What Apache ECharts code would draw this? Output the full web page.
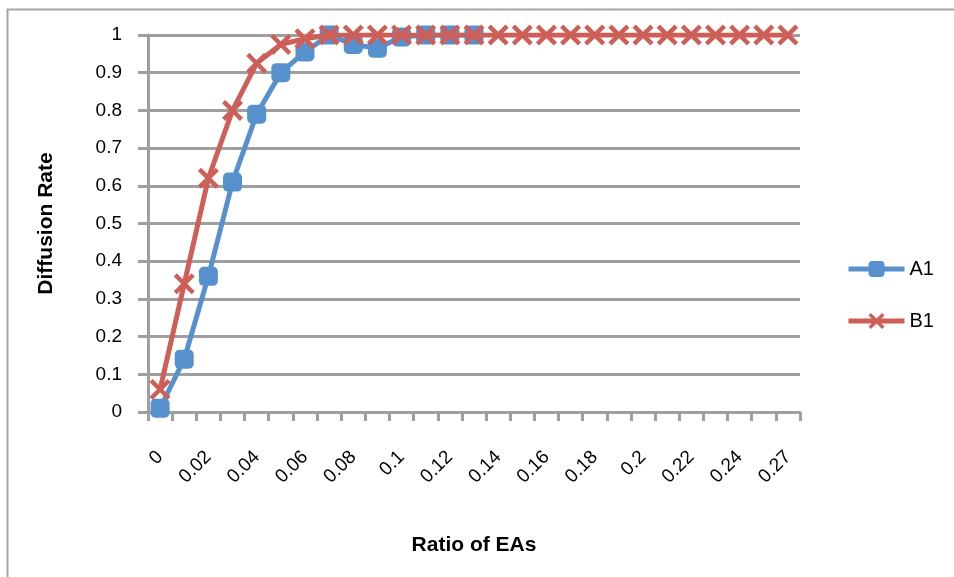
<!DOCTYPE html>
<html>
<head>
<meta charset="utf-8">
<script src="https://cdn.jsdelivr.net/npm/echarts@6/dist/echarts.min.js"></script>
<style>
html,body{margin:0;padding:0;background:#fff;}
#chart{width:954px;height:577px;}
</style>
</head>
<body>
<div id="chart"></div>
<script>
var categories = ['0','0.01','0.02','0.03','0.04','0.05','0.06','0.07','0.08','0.09','0.1','0.11','0.12','0.13','0.14','0.15','0.16','0.17','0.18','0.19','0.2','0.21','0.22','0.23','0.24','0.25','0.27'];
var seriesA1 = [0.01,0.14,0.36,0.61,0.79,0.90,0.955,1.0,0.975,0.965,0.995,1.0,1.0,1.0];
var seriesB1 = [0.06,0.34,0.62,0.80,0.925,0.975,0.99,1.0,1.0,1.0,1.0,1.0,1.0,1.0,1.0,1.0,1.0,1.0,1.0,1.0,1.0,1.0,1.0,1.0,1.0,1.0,1.0];
var seriesNames = ['A1','B1'];
var yAxisTitle = 'Diffusion Rate';
var xAxisTitle = 'Ratio of EAs';

var FONT = 'Liberation Sans';
var GRID = '#9f9f9f';
var BLUE = '#5791cd';
var RED = '#cd5f58';
var XSYM = 'path://M3,0 L10,7 L17,0 L20,3 L13,10 L20,17 L17,20 L10,13 L3,20 L0,17 L7,10 L0,3 Z';

var chart = echarts.init(document.getElementById('chart'), null, {renderer:'canvas'});
chart.setOption({
  animation: false,
  backgroundColor: '#fff',
  graphic: [{
    type: 'rect', left: 5, top: 7, silent: true,
    shape: {x: 0, y: 0, width: 1000, height: 1000},
    style: {fill: 'none', stroke: '#a6a6a6', lineWidth: 2}
  }],
  grid: {left: 148, top: 35, width: 652, height: 377, containLabel: false},
  legend: {
    orient: 'vertical', left: 846, top: 259, padding: 0,
    itemWidth: 56, itemHeight: 20, itemGap: 32,
    lineStyle: {width: 5},
    textStyle: {fontFamily: FONT, fontSize: 20, color: '#000', padding: [0,0,0,0]},
    data: seriesNames
  },
  xAxis: {
    type: 'category', data: categories, boundaryGap: true,
    name: xAxisTitle, nameLocation: 'middle', nameGap: 123,
    nameTextStyle: {fontFamily: FONT, fontSize: 21, fontWeight: 'bold', color: '#000'},
    axisLine: {show: true, lineStyle: {color: GRID, width: 3}},
    axisTick: {show: true, interval: 0, length: 9, lineStyle: {color: GRID, width: 3}},
    axisLabel: {interval: 1, rotate: 45, margin: 42, fontFamily: FONT, fontSize: 19, color: '#000'},
    splitLine: {show: false}
  },
  yAxis: {
    type: 'value', min: 0, max: 1, interval: 0.1,
    name: yAxisTitle, nameLocation: 'middle', nameGap: 91, nameRotate: 90,
    nameTextStyle: {fontFamily: FONT, fontSize: 21, fontWeight: 'bold', color: '#000'},
    axisLine: {show: true, lineStyle: {color: GRID, width: 3}},
    axisTick: {show: true, length: 10, lineStyle: {color: GRID, width: 3}},
    axisLabel: {margin: 26, fontFamily: FONT, fontSize: 19, color: '#000',
      formatter: function (v) { return String(Math.round(v * 10) / 10); }},
    splitLine: {show: true, lineStyle: {color: GRID, width: 3}}
  },
  series: [{
    name: seriesNames[0], type: 'line', data: seriesA1,
    symbol: 'roundRect', symbolSize: 19, showAllSymbol: true,
    lineStyle: {color: BLUE, width: 5},
    itemStyle: {color: BLUE},
    z: 2
  }, {
    name: seriesNames[1], type: 'line', data: seriesB1,
    symbol: XSYM, symbolSize: 21, showAllSymbol: true,
    lineStyle: {color: RED, width: 5},
    itemStyle: {color: RED},
    z: 3
  }]
});
</script>
</body>
</html>
